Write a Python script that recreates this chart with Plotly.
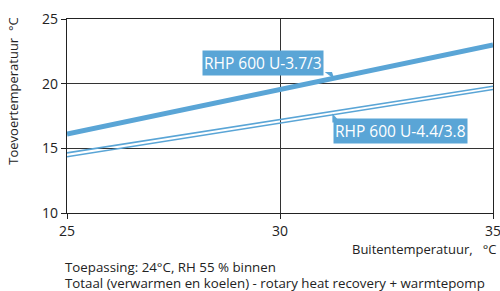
import plotly.graph_objects as go

# Data
outdoor_temp = [25, 35]
rhp_37_3 = [16.1, 23.0]
rhp_44_38_upper = [14.65, 19.8]
rhp_44_38_lower = [14.35, 19.55]

x_ticks = [25, 30, 35]
y_ticks = [10, 15, 20, 25]

label_a = "RHP 600 U-3.7/3"
label_b = "RHP 600 U-4.4/3.8"
y_title = "Toevoertemperatuur  °C"
x_title = "Buitentemperatuur,   °C"
note_1 = "Toepassing: 24°C, RH 55 % binnen"
note_2 = "Totaal (verwarmen en koelen) - rotary heat recovery + warmtepomp"

BLUE = "#5aa5d6"
FONT = "Open Sans"

fig = go.Figure()
fig.add_trace(go.Scatter(x=outdoor_temp, y=rhp_44_38_upper, mode="lines",
                         line=dict(color=BLUE, width=1.6), hoverinfo="skip"))
fig.add_trace(go.Scatter(x=outdoor_temp, y=rhp_44_38_lower, mode="lines",
                         line=dict(color=BLUE, width=1.6), hoverinfo="skip"))
fig.add_trace(go.Scatter(x=outdoor_temp, y=rhp_37_3, mode="lines",
                         line=dict(color=BLUE, width=5), hoverinfo="skip"))

# label callout pointers
fig.add_shape(type="path", path="M 31.05 20.9 L 31.22 20.9 L 31.28 20.35 Z",
              xref="x", yref="y", fillcolor=BLUE, line=dict(width=0))
fig.add_shape(type="path", path="M 31.23 17.0 L 31.42 17.0 L 31.23 17.7 Z",
              xref="x", yref="y", fillcolor=BLUE, line=dict(width=0))

fig.add_annotation(x=29.61, y=21.62, xref="x", yref="y", text=label_a,
                   showarrow=False, bgcolor=BLUE, borderpad=1,
                   font=dict(family=FONT, size=15.5, color="white"))
fig.add_annotation(x=32.84, y=16.34, xref="x", yref="y", text=label_b,
                   showarrow=False, bgcolor=BLUE, borderpad=1,
                   font=dict(family=FONT, size=15.5, color="white"))

fig.add_annotation(x=-0.127, y=0.63, xref="paper", yref="paper", text=y_title,
                   textangle=-90, showarrow=False, xanchor="center", yanchor="middle",
                   font=dict(family=FONT, size=13, color="#222"))
fig.add_annotation(x=1.012, y=-0.186, xref="paper", yref="paper", text=x_title,
                   showarrow=False, xanchor="right", yanchor="middle",
                   font=dict(family=FONT, size=13, color="#222"))
fig.add_annotation(x=-0.01, y=-0.28, xref="paper", yref="paper", text=note_1,
                   showarrow=False, xanchor="left", yanchor="middle",
                   font=dict(family=FONT, size=13.3, color="#222"))
fig.add_annotation(x=-0.01, y=-0.362, xref="paper", yref="paper", text=note_2,
                   showarrow=False, xanchor="left", yanchor="middle",
                   font=dict(family=FONT, size=13.3, color="#222"))

fig.update_xaxes(range=[25, 35], tickvals=x_ticks, showgrid=True, gridcolor="#333",
                 gridwidth=1, showline=True, linecolor="#222", linewidth=1.2,
                 mirror=True, ticks="outside", ticklen=5, tickcolor="#222",
                 zeroline=False, ticklabeloverflow="allow",
                 tickfont=dict(family=FONT, size=14, color="#222"))
fig.update_yaxes(range=[10, 25], tickvals=y_ticks, showgrid=True, gridcolor="#333",
                 gridwidth=1, showline=True, linecolor="#222", linewidth=1.2,
                 mirror=True, ticks="outside", ticklen=5, tickcolor="#222",
                 zeroline=False, ticklabeloverflow="allow",
                 tickfont=dict(family=FONT, size=14, color="#222"))

fig.update_layout(width=500, height=291, showlegend=False,
                  margin=dict(l=67, r=7, t=19, b=78, autoexpand=False),
                  plot_bgcolor="white", paper_bgcolor="white")

fig.write_html("out.html",
               config={"displayModeBar": False},
               post_script="document.documentElement.style.overflow='hidden';"
                           "document.body.style.margin='0';"
                           "document.body.style.overflow='hidden';")
